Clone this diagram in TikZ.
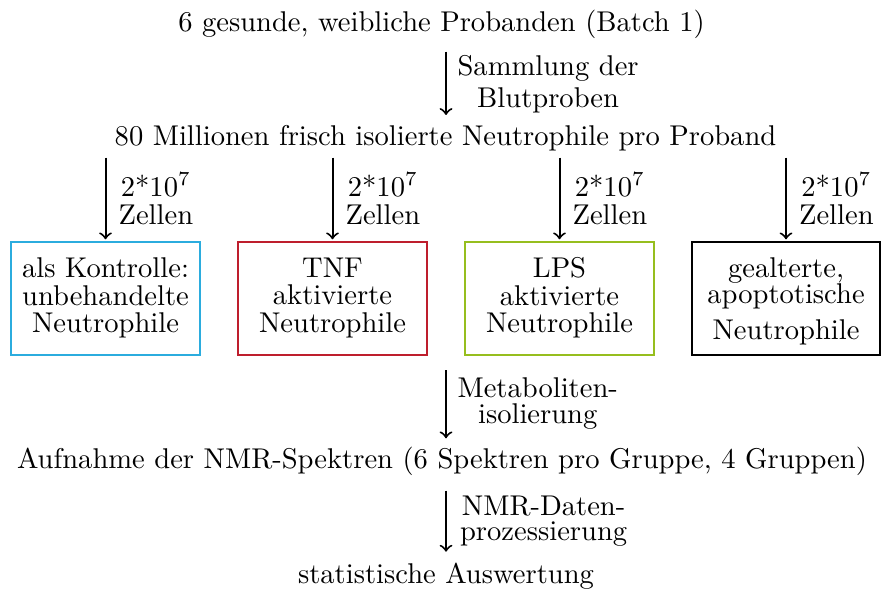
\documentclass[tikz,border=0pt]{standalone}
\definecolor{kblue}{RGB}{43,172,222}
\definecolor{kred}{RGB}{190,30,45}
\definecolor{kgreen}{RGB}{150,190,30}
\begin{document}
\begin{tikzpicture}[x=0.35pt,y=-0.35pt,
  txt/.style={inner sep=0pt,font=\fontsize{10}{12}\selectfont},
  lbl/.style={inner sep=0pt,align=center},
  group/.style={draw,line width=0.7pt,minimum width=66.15pt,minimum height=39.55pt,
    inner sep=0pt,align=center,font=\fontsize{10}{9.6}\selectfont},
  arr/.style={->,line width=0.7pt}]
\useasboundingbox (0,0) rectangle (881,590);

% main text nodes
\node[txt,anchor=base] (probanden) at (441.5,32) {6 gesunde, weibliche Probanden (Batch 1)};
\node[txt,anchor=base] (isol) at (445.5,146) {80 Millionen frisch isolierte Neutrophile pro Proband};
\node[group,draw=kblue] (g1) at (105.5,298) {als Kontrolle:\\unbehandelte\\Neutrophile};
\node[group,draw=kred] (g2) at (332.5,298) {TNF\\aktivierte\\Neutrophile};
\node[group,draw=kgreen] (g3) at (559.5,298) {LPS\\aktivierte\\Neutrophile};
\node[group,draw=black,minimum width=65.8pt] (g4) at (786,298) {\rule{0pt}{9.04pt}gealterte,\\[-0.6pt]apoptotische\\[3pt]Neutrophile};
\node[txt,anchor=base] (nmr) at (442,468) {Aufnahme der NMR-Spektren (6 Spektren pro Gruppe, 4 Gruppen)};
\node[txt,anchor=base] (stat) at (446,583) {statistische Auswertung};
\coordinate (spine) at (446,0);

% connectors
\draw[arr,shorten <=4.2pt,shorten >=3.6pt] (probanden.south -| spine) -- (isol.north -| spine);
\foreach \g in {g1,g2,g3,g4}{
  \draw[arr,shorten <=1.9pt,shorten >=0.4pt] (isol.south -| \g.north) -- (\g.north);
}
\draw[arr,shorten <=5.1pt,shorten >=2.7pt] (g2.south -| spine) -- (nmr.north -| spine);
\draw[arr,shorten <=5.2pt,shorten >=3.6pt] (nmr.south -| spine) -- (stat.north -| spine);

% labels
\node[lbl,anchor=north west,font=\fontsize{10}{11.2}\selectfont] (l1) at (457,55.2) {Sammlung der\\Blutproben};
\node[lbl,anchor=south west,font=\fontsize{10}{9.8}\selectfont] (c1) at (118,225) {2*10$^{7}$\\Zellen};
\node[lbl,anchor=south west,font=\fontsize{10}{9.8}\selectfont] (c2) at (345,225) {2*10$^{7}$\\Zellen};
\node[lbl,anchor=south west,font=\fontsize{10}{9.8}\selectfont] (c3) at (572,225) {2*10$^{7}$\\Zellen};
\node[lbl,anchor=south west,font=\fontsize{10}{9.8}\selectfont] (c4) at (798.5,225) {2*10$^{7}$\\Zellen};
\node[lbl,anchor=north west,font=\fontsize{10}{9.1}\selectfont] (l3) at (457,377.2) {Metaboliten-\\isolierung};
\node[lbl,anchor=north west,font=\fontsize{10}{8.75}\selectfont] (l4) at (459.5,495.5) {NMR-Daten-\\prozessierung};
\end{tikzpicture}
\end{document}
